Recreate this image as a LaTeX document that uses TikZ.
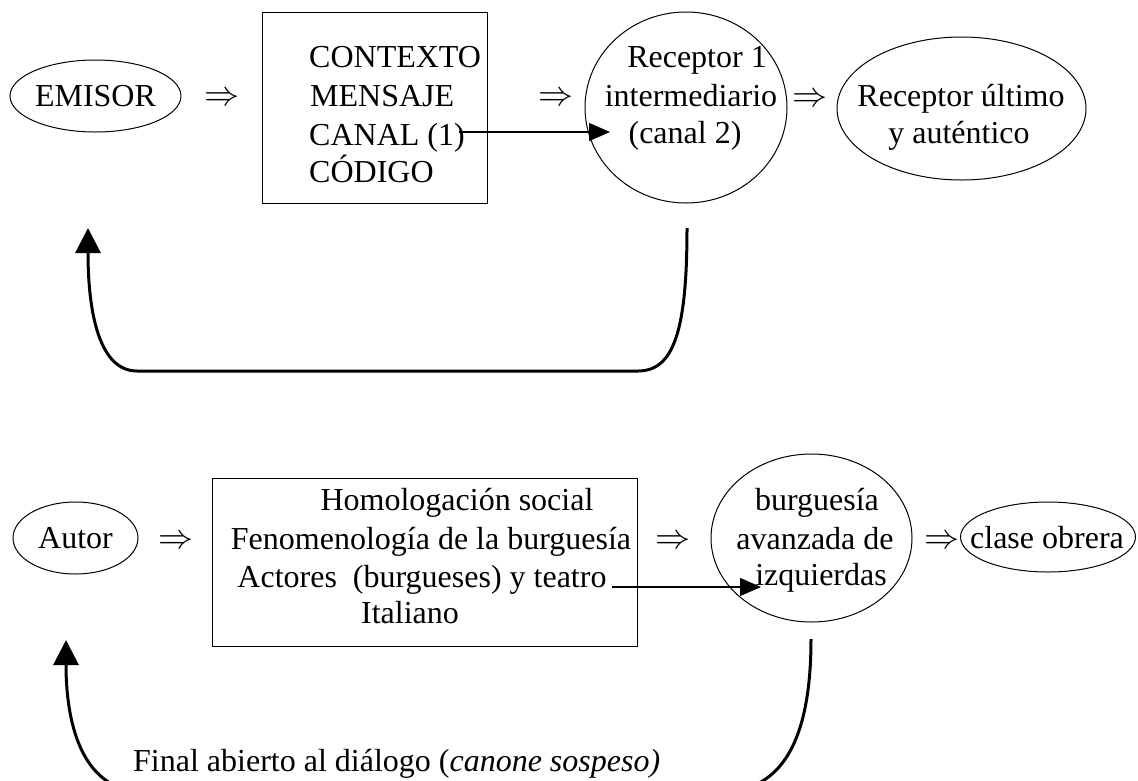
\documentclass[tikz,border=0pt]{standalone}
\usepackage{graphicx}
\usepackage{fontspec}
\setmainfont{Liberation Serif}
\usetikzlibrary{shapes.geometric,arrows.meta}
\newcommand{\dblarrow}{\resizebox{35pt}{!}{$\Rightarrow$}}
\begin{document}
\begin{tikzpicture}[x=1pt,y=-1pt,
  every node/.style={font=\fontsize{32}{38}\selectfont, inner sep=0pt},
  shp/.style={draw, line width=1pt},
  oval/.style={shp, ellipse},
  txt/.style={anchor=base},
  ltxt/.style={anchor=base west},
  imp/.style={},
  feed/.style={line width=3pt, -{Triangle[length=25pt,width=25pt]}},
  link/.style={line width=1.2pt, -{Triangle[length=21pt,width=18pt]}}
]
\useasboundingbox (0,0) rectangle (1138,780);

% ---------- top row ----------
\node[oval, minimum width=165pt, minimum height=72pt] (emisor) at (95.5,96) {EMISOR};
\node[imp] (ar1) at (221.5,99) {\dblarrow};
\node[shp, minimum width=225pt, minimum height=191pt] (box1) at (374.5,107.5) {};
\node[ltxt] (t1a) at (309,67) {CONTEXTO};
\node[ltxt] (t1b) at (310,106) {MENSAJE};
\node[ltxt] (t1c) at (309,145) {CANAL (1)};
\node[ltxt] (t1d) at (309,182) {CÓDIGO};
\node[imp] (ar2) at (556,99) {\dblarrow};
\node[oval, minimum width=202pt, minimum height=191pt] (rec1) at (686,107.5) {};
\node[txt] (r1a) at (697,67) {Receptor 1};
\node[txt] (r1b) at (691,106) {intermediario};
\node[txt] (r1c) at (685,143) {(canal 2)};
\node[imp] (ar3) at (809.5,100) {\dblarrow};
\node[oval, minimum width=249pt, minimum height=143pt] (rec2) at (961.5,108.5) {};
\node[txt] (r2a) at (961,106) {Receptor último};
\node[txt] (r2b) at (959,143) {y auténtico};

\coordinate (l1s) at (459,132);
\coordinate (l1e) at (610,132);
\draw[link] (l1s) -- (l1e);

\coordinate (f1s) at (687,228);
\coordinate (f1e) at (88,228);
\draw[feed] (f1s) .. controls (687,330) and (674,371) .. (638,371)
  -- (137,371) .. controls (100,371) and (88,315) .. (f1e);

% ---------- bottom row ----------
\node[oval, minimum width=125pt, minimum height=72pt] (autor) at (75.5,538) {Autor};
\node[imp] (ar4) at (175.5,542) {\dblarrow};
\node[shp, minimum width=425pt, minimum height=168pt] (box2) at (424.5,562) {};
\node[txt] (b2a) at (457,510) {Homologación social};
\node[txt] (b2b) at (431,549) {Fenomenología de la burguesía};
\node[txt] (b2c) at (422,587) {Actores\ \ (burgueses) y teatro};
\node[txt] (b2d) at (410,623) {Italiano};
\node[imp] (ar5) at (672.5,542) {\dblarrow};
\node[oval, minimum width=201pt, minimum height=168pt] (burg) at (811.5,538) {};
\node[txt] (bga) at (817,510) {burguesía};
\node[txt] (bgb) at (815,549) {avanzada de};
\node[txt] (bgc) at (821,585) {izquierdas};
\node[imp] (ar6) at (942,542) {\dblarrow};
\node[oval, minimum width=175pt, minimum height=70pt] (obrera) at (1048,537) {};
\node[txt] (obt) at (1047,548) {clase obrera};

\coordinate (l2s) at (612,587);
\coordinate (l2e) at (761,587);
\draw[link] (l2s) -- (l2e);

\coordinate (f2s) at (811,639);
\coordinate (f2e) at (66,640);
\begin{scope}
\clip (0,0) rectangle (1138,780);
\draw[feed] (f2s) .. controls (811,735) and (785,792) .. (720,792)
  -- (145,792) .. controls (85,792) and (66,730) .. (f2e);
\end{scope}
\node[ltxt] (final) at (133,771) {Final abierto al diálogo (\textit{canone sospeso)}};
\end{tikzpicture}
\end{document}
